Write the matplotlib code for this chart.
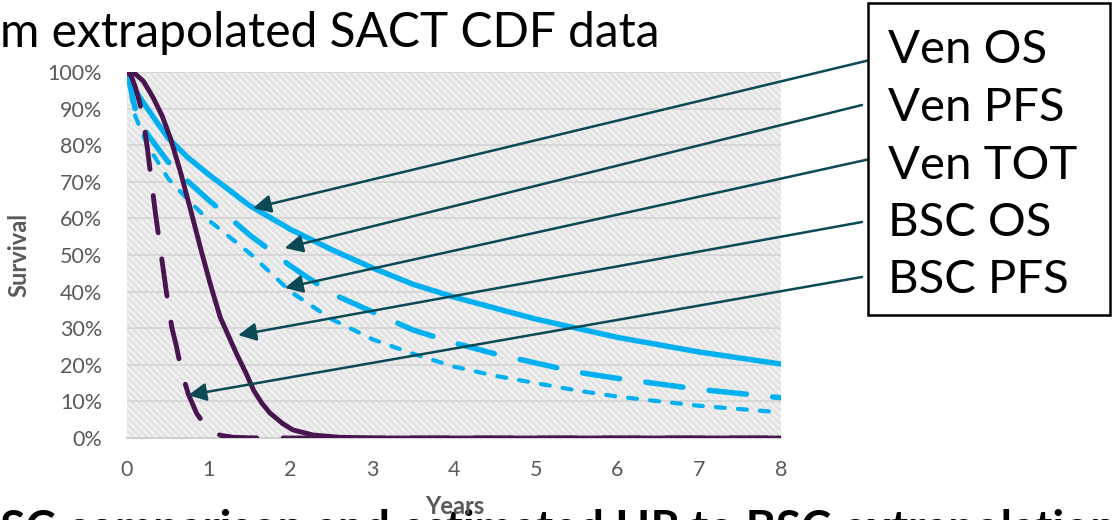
import matplotlib
matplotlib.use("Agg")
import matplotlib.pyplot as plt
from matplotlib.patches import Rectangle

plt.rcParams['font.family'] = ['Lato', 'DejaVu Sans']
plt.rcParams['lines.scale_dashes'] = False
plt.rcParams['hatch.linewidth'] = 1.1

# ---- data (years, survival fraction) ----
ven_os_x = [0, 0.1, 0.25, 0.5, 0.75, 1, 1.5, 2, 2.5, 3, 3.5, 4, 4.5, 5, 5.5, 6, 7, 8]
ven_os_y = [1.0, 0.95, 0.90, 0.82, 0.765, 0.72, 0.635, 0.57, 0.515, 0.465, 0.42, 0.385, 0.355, 0.325, 0.30, 0.275, 0.235, 0.202]

ven_pfs_x = [0, 0.1, 0.25, 0.5, 0.75, 1, 1.5, 2, 2.5, 3, 3.5, 4, 4.5, 5, 5.5, 6, 7, 8]
ven_pfs_y = [1.0, 0.90, 0.83, 0.755, 0.70, 0.65, 0.555, 0.47, 0.395, 0.345, 0.295, 0.26, 0.23, 0.205, 0.18, 0.163, 0.133, 0.11]

ven_tot_x = [0, 0.1, 0.25, 0.5, 0.75, 1, 1.5, 2, 2.5, 3, 3.5, 4, 4.5, 5, 5.5, 6, 7, 8]
ven_tot_y = [1.0, 0.88, 0.80, 0.71, 0.65, 0.595, 0.505, 0.40, 0.325, 0.27, 0.23, 0.195, 0.17, 0.15, 0.13, 0.113, 0.088, 0.07]

bsc_os_x = [0, 0.1, 0.2, 0.32, 0.43, 0.53, 0.65, 0.77, 0.91, 1.02, 1.14, 1.24, 1.34, 1.45, 1.55,
            1.65, 1.75, 1.9, 2.03, 2.28, 2.6, 3, 4, 5, 6, 7, 8]
bsc_os_y = [1.0, 0.995, 0.975, 0.93, 0.88, 0.82, 0.73, 0.63, 0.51, 0.42, 0.33, 0.28, 0.23, 0.18, 0.13,
            0.095, 0.068, 0.04, 0.022, 0.008, 0.002, 0, 0, 0, 0, 0, 0]

bsc_pfs_x = [0, 0.05, 0.1, 0.15, 0.2, 0.25, 0.3, 0.35, 0.4, 0.45, 0.5, 0.55, 0.6, 0.67, 0.75,
             0.85, 1.0, 1.15, 1.3, 1.5, 2, 3, 4, 5, 6, 7, 8]
bsc_pfs_y = [1.0, 0.99, 0.96, 0.92, 0.87, 0.79, 0.70, 0.61, 0.53, 0.45, 0.37, 0.30, 0.255, 0.18, 0.12,
             0.068, 0.02, 0.007, 0.002, 0.0005, 0, 0, 0, 0, 0, 0, 0]

legend_labels = ["Ven OS", "Ven PFS", "Ven TOT", "BSC OS", "BSC PFS"]
# arrow tips (data coords) pointing at each curve
arrow_tips = [(1.54, 0.628), (1.93, 0.519), (1.93, 0.41), (1.36, 0.281), (0.75, 0.117)]

x_ticks = [0, 1, 2, 3, 4, 5, 6, 7, 8]
y_ticks = [0, 0.1, 0.2, 0.3, 0.4, 0.5, 0.6, 0.7, 0.8, 0.9, 1.0]
y_tick_labels = ["0%", "10%", "20%", "30%", "40%", "50%", "60%", "70%", "80%", "90%", "100%"]

BLUE = '#00B0F0'
PURPLE = '#481550'
ARROW = '#0B4A55'
GRAY = '#595959'

W, H = 1112, 520
fig = plt.figure(figsize=(W / 100, H / 100), dpi=100)
ax = fig.add_axes([127 / W, 82 / H, 654 / W, 366 / H])

# hatched background
ax.set_facecolor('#e3e3e3')
bg = Rectangle((0, 0), 1, 1, transform=ax.transAxes, facecolor='none',
               edgecolor='#f6f6f6', hatch='\\\\\\\\\\', linewidth=0, zorder=0)
ax.add_patch(bg)
ax.set_axisbelow(True)
ax.yaxis.grid(True, color='#d6d6d6', linewidth=1.3, zorder=1)

ax.plot(ven_os_x, ven_os_y, color=BLUE, lw=3.9, solid_capstyle='round', zorder=3)
ax.plot(ven_pfs_x, ven_pfs_y, color=BLUE, lw=3.9, dashes=(27, 19), dash_capstyle='round', zorder=3)
ax.plot(ven_tot_x, ven_tot_y, color=BLUE, lw=3.0, dashes=(6.5, 9.4), dash_capstyle='round', zorder=3)
ax.plot(bsc_os_x, bsc_os_y, color=PURPLE, lw=3.5, solid_capstyle='round', zorder=4)
ax.plot(bsc_pfs_x, bsc_pfs_y, color=PURPLE, lw=3.5, dashes=(27, 19), dash_capstyle='round', zorder=4)

ax.set_xlim(0, 8)
ax.set_ylim(0, 1)
ax.set_xticks(x_ticks)
ax.set_xticklabels([str(t) for t in x_ticks])
ax.set_yticks(y_ticks)
ax.set_yticklabels(y_tick_labels)
ax.tick_params(axis='both', length=0, labelsize=15.5, colors=GRAY)
ax.tick_params(axis='x', pad=16)
ax.tick_params(axis='y', pad=18)
for s in ['top', 'right', 'left']:
    ax.spines[s].set_visible(False)
ax.spines['bottom'].set_color('#d0d0d0')
ax.spines['bottom'].set_linewidth(1.5)

fig.text(19 / W, 1 - 255 / H, "Survival", rotation=90, ha='center', va='center',
         fontsize=17, fontweight='bold', color=GRAY)
fig.text(455 / W, 1 - 506 / H, "Years", ha='center', va='center',
         fontsize=17, fontweight='bold', color=GRAY, zorder=3)

# cropped slide texts
fig.text(0 / W, 1 - 47 / H, "m extrapolated SACT CDF data", ha='left', va='baseline',
         fontsize=34.5, color='black')
fig.text(-30 / W, 1 - 543 / H, "BSC comparison and estimated HR to BSC extrapolation",
         ha='left', va='baseline', fontsize=33, fontweight='bold', color='black', zorder=2)

# legend box
box = Rectangle((868 / W, 1 - 315 / H), (1110 - 868) / W, (315 - 3) / H,
                transform=fig.transFigure, facecolor='white', edgecolor='black',
                linewidth=1.8, zorder=5)
fig.add_artist(box)
baselines = [63, 121, 179, 236, 293]
for lab, yb in zip(legend_labels, baselines):
    fig.text(888 / W, 1 - yb / H, lab, ha='left', va='baseline', fontsize=34,
             color='black', zorder=6)

tails = [(870, 60), (862, 105), (870, 159), (862, 222), (862, 277)]
for (tx, ty), tip in zip(tails, arrow_tips):
    ax.annotate("", xy=tip, xycoords='data', xytext=(tx / W, 1 - ty / H),
                textcoords='figure fraction', annotation_clip=False,
                arrowprops=dict(arrowstyle='-|>', color=ARROW, lw=1.8,
                                mutation_scale=27, shrinkA=0, shrinkB=0),
                zorder=7)

fig.savefig("out.png", dpi=100)
